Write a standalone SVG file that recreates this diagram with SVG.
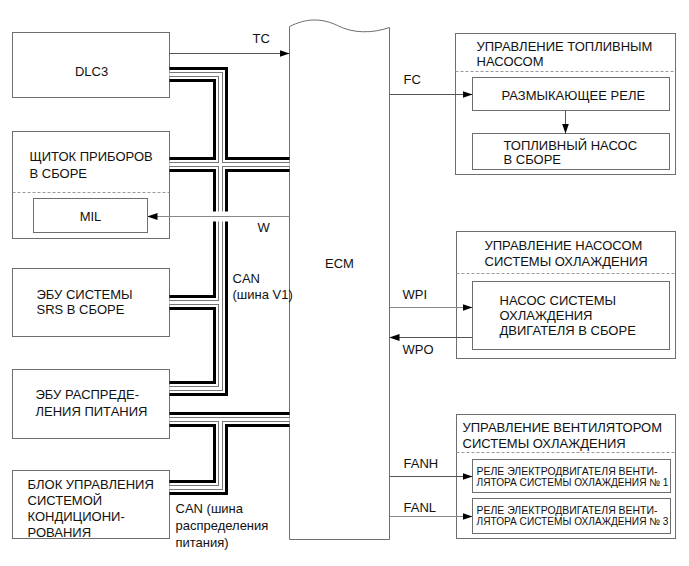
<svg xmlns="http://www.w3.org/2000/svg" xmlns:xlink="http://www.w3.org/1999/xlink" width="689" height="566" viewBox="0 0 689 566">
<style>
  text { font-family: "Liberation Sans", Arial, sans-serif; font-size: 13px; fill: #111; }
  .small { font-size: 10.5px; }
  .box { fill: #fff; stroke: #6e6e6e; stroke-width: 1; }
  .dash { stroke: #999; stroke-width: 1; stroke-dasharray: 3 2; fill: none; }
  .wire { stroke: #555; stroke-width: 1; fill: none; }
  .wgray { stroke: #888; stroke-width: 1; fill: none; }
  .l1 { stroke: #000; stroke-width: 15; fill: none; stroke-linejoin: miter; }
  .l2 { stroke: #fff; stroke-width: 9; fill: none; stroke-linejoin: miter; }
  .l3 { stroke: #777; stroke-width: 5; fill: none; stroke-linejoin: miter; }
  .l4 { stroke: #fff; stroke-width: 3; fill: none; stroke-linejoin: miter; }
</style>
<defs>
  <marker id="arr" markerUnits="userSpaceOnUse" markerWidth="10" markerHeight="7" refX="10" refY="3.5" orient="auto">
    <path d="M0,0 L10,3.5 L0,7 Z" fill="#000"/>
  </marker>
  <path id="bus1" d="M169,74 H220 V388 H169 M169,164 H289 M169,302 H220"/>
  <path id="bus2" d="M169,419 H289 M220,419 V487 H169"/>
</defs>
<rect width="689" height="566" fill="#fff"/>
<g transform="translate(0.5,0.5)">

<!-- Left nodes -->
<g id="dlc3">
  <rect class="box" x="12" y="32" width="157" height="65"/>
  <text x="91" y="75" text-anchor="middle">DLC3</text>
</g>
<g id="combination-meter">
  <rect class="box" x="12" y="131" width="157" height="107"/>
  <text x="29" y="160">ЩИТОК ПРИБОРОВ</text>
  <text x="29" y="177">В СБОРЕ</text>
  <line class="dash" x1="12" y1="192" x2="169" y2="192"/>
</g>
<g id="mil">
  <rect class="box" x="33" y="198" width="114" height="34"/>
  <text x="90" y="220" text-anchor="middle">MIL</text>
</g>
<g id="srs">
  <rect class="box" x="12" y="268" width="157" height="68"/>
  <text x="36" y="298">ЭБУ СИСТЕМЫ</text>
  <text x="36" y="313">SRS В СБОРЕ</text>
</g>
<g id="power-ecu">
  <rect class="box" x="12" y="369" width="157" height="69"/>
  <text x="35" y="398">ЭБУ РАСПРЕДЕ-</text>
  <text x="35" y="415">ЛЕНИЯ ПИТАНИЯ</text>
</g>
<g id="ac-amplifier">
  <rect class="box" x="12" y="470" width="157" height="68"/>
  <text x="27" y="488">БЛОК УПРАВЛЕНИЯ</text>
  <text x="27" y="504">СИСТЕМОЙ</text>
  <text x="27" y="520">КОНДИЦИОНИ-</text>
  <text x="27" y="536">РОВАНИЯ</text>
</g>

<!-- ECM -->
<g id="ecm">
  <path class="box" d="M289,539 V26 C305,18 320,17 337,25 C352,33 372,33 389,27 V539 Z"/>
  <text x="339" y="267" text-anchor="middle">ECM</text>
</g>

<!-- Right nodes -->
<g id="fuel-pump-control">
  <rect class="box" x="455" y="33" width="220" height="141"/>
  <text x="476" y="50">УПРАВЛЕНИЕ ТОПЛИВНЫМ</text>
  <text x="476" y="65">НАСОСОМ</text>
  <line class="dash" x1="455" y1="71" x2="675" y2="71"/>
</g>
<g id="circuit-opening-relay">
  <rect class="box" x="472" y="77" width="197" height="33"/>
  <text x="501" y="99">РАЗМЫКАЮЩЕЕ РЕЛЕ</text>
</g>
<g id="fuel-pump">
  <rect class="box" x="472" y="133" width="197" height="36"/>
  <text x="503" y="149">ТОПЛИВНЫЙ НАСОС</text>
  <text x="503" y="163">В СБОРЕ</text>
</g>
<g id="water-pump-control">
  <rect class="box" x="456" y="231" width="219" height="127"/>
  <text x="484" y="249">УПРАВЛЕНИЕ НАСОСОМ</text>
  <text x="484" y="265">СИСТЕМЫ ОХЛАЖДЕНИЯ</text>
  <line class="dash" x1="456" y1="273" x2="675" y2="273"/>
</g>
<g id="water-pump">
  <rect class="box" x="472" y="281" width="197" height="68"/>
  <text x="499" y="304">НАСОС СИСТЕМЫ</text>
  <text x="499" y="319">ОХЛАЖДЕНИЯ</text>
  <text x="499" y="334">ДВИГАТЕЛЯ В СБОРЕ</text>
</g>
<g id="fan-control">
  <rect class="box" x="456" y="414" width="219" height="124"/>
  <text x="462" y="431">УПРАВЛЕНИЕ ВЕНТИЛЯТОРОМ</text>
  <text x="462" y="447">СИСТЕМЫ ОХЛАЖДЕНИЯ</text>
  <line class="dash" x1="456" y1="452" x2="675" y2="452"/>
</g>
<g id="fan-relay-1">
  <rect class="box" x="472" y="459" width="198" height="33"/>
  <text class="small" x="476" y="474" textLength="181" lengthAdjust="spacingAndGlyphs">РЕЛЕ ЭЛЕКТРОДВИГАТЕЛЯ ВЕНТИ-</text>
  <text class="small" x="476" y="485" textLength="192" lengthAdjust="spacingAndGlyphs">ЛЯТОРА СИСТЕМЫ ОХЛАЖДЕНИЯ № 1</text>
</g>
<g id="fan-relay-3">
  <rect class="box" x="472" y="498" width="198" height="35"/>
  <text class="small" x="476" y="513" textLength="181" lengthAdjust="spacingAndGlyphs">РЕЛЕ ЭЛЕКТРОДВИГАТЕЛЯ ВЕНТИ-</text>
  <text class="small" x="476" y="524" textLength="192" lengthAdjust="spacingAndGlyphs">ЛЯТОРА СИСТЕМЫ ОХЛАЖДЕНИЯ № 3</text>
</g>

<!-- Connectors -->
<g id="connectors">
  <g id="can-buses">
    <use xlink:href="#bus1" class="l1"/><use xlink:href="#bus2" class="l1"/>
    <use xlink:href="#bus1" class="l2"/><use xlink:href="#bus2" class="l2"/>
    <use xlink:href="#bus1" class="l3"/><use xlink:href="#bus2" class="l3"/>
    <use xlink:href="#bus1" class="l4"/><use xlink:href="#bus2" class="l4"/>
    <rect x="211" y="211" width="19" height="10" fill="#fff"/>
  </g>
  <path class="wire" d="M169,53 H289" marker-end="url(#arr)"/>
  <path class="wgray" d="M289,216 H147" marker-end="url(#arr)"/>
  <path class="wire" d="M389,94 H472" marker-end="url(#arr)"/>
  <path class="wire" d="M565,110 V133" marker-end="url(#arr)"/>
  <path class="wgray" d="M389,307 H472" marker-end="url(#arr)"/>
  <path class="wire" d="M472,337 H389" marker-end="url(#arr)"/>
  <path class="wire" d="M389,476 H472" marker-end="url(#arr)"/>
  <path class="wgray" d="M389,516 H472" marker-end="url(#arr)"/>
  <text x="252" y="42">TC</text>
  <text x="403" y="83">FC</text>
  <text x="257" y="231">W</text>
  <text x="402" y="298">WPI</text>
  <text x="402" y="353">WPO</text>
  <text x="403" y="467">FANH</text>
  <text x="403" y="511">FANL</text>
  <text x="232" y="282">CAN</text>
  <text x="232" y="298">(шина V1)</text>
  <text x="175" y="512">CAN (шина</text>
  <text x="175" y="529">распределения</text>
  <text x="175" y="546">питания)</text>
</g>
</g>
</svg>
